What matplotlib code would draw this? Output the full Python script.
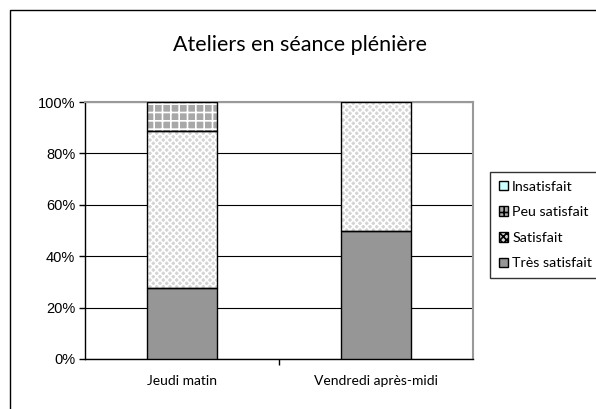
import numpy as np
import matplotlib.pyplot as plt
from matplotlib.patches import Patch, Rectangle

categories = ['Jeudi matin', 'Vendredi après-midi']
tres_satisfait = [27.8, 50.0]
satisfait = [61.1, 50.0]
peu_satisfait = [11.1, 0.0]
insatisfait = [0.0, 0.0]

series = [
    ('Très satisfait', tres_satisfait, '#969696', None, None),
    ('Satisfait', satisfait, '#d4d4d4', 'xxxxx', 'white'),
    ('Peu satisfait', peu_satisfait, '#a8a8a8', '++', 'white'),
    ('Insatisfait', insatisfait, '#ccffff', None, None),
]

plt.rcParams['font.family'] = ['Liberation Sans', 'DejaVu Sans']
plt.rcParams['hatch.linewidth'] = 1.2

fig = plt.figure(figsize=(5.96, 4.09), dpi=100)
# chart frame (cut off at right and bottom like the original)
fig.patches.append(Rectangle((10/596, -0.1), 1.0, 1 - 10/409 + 0.1,
                             transform=fig.transFigure, fill=False,
                             edgecolor='black', linewidth=1.0))

ax = fig.add_axes([85/596, 1 - 359/409, 388/596, 257/409])
x = np.arange(len(categories))
width = 0.36
bottom = np.zeros(len(categories))
for name, vals, color, hatch, hcol in series:
    vals = np.array(vals)
    if hatch:
        ax.bar(x, vals, width, bottom=bottom, color=color, edgecolor=hcol,
               hatch=hatch, linewidth=0, zorder=3)
    else:
        ax.bar(x, vals, width, bottom=bottom, color=color, linewidth=0, zorder=3)
    mask = vals > 0
    ax.bar(x[mask], vals[mask], width, bottom=bottom[mask], fill=False,
           edgecolor='black', linewidth=1.0, zorder=4)
    bottom += vals

ax.set_xlim(-0.5, 1.5)
ax.set_ylim(0, 100)
ax.set_yticks(np.arange(0, 101, 20))
ax.set_yticklabels(['{}%'.format(v) for v in range(0, 101, 20)], fontsize=10.5)
ax.set_xticks([0.5])
ax.set_xticklabels([''])
ax.tick_params(axis='x', length=4, width=1, direction='out')
ax.tick_params(axis='y', length=4, width=1, direction='out', pad=3)
for i, c in enumerate(categories):
    ax.text(i, -0.085, c, transform=ax.get_xaxis_transform(), ha='center',
            va='center', fontsize=10, family=['Lato', 'DejaVu Sans'])
ax.yaxis.grid(True, color='black', linewidth=0.8, zorder=0)
ax.set_axisbelow(True)
for s in ['top', 'right']:
    ax.spines[s].set_color('#999999')
    ax.spines[s].set_linewidth(1.5)
for s in ['left', 'bottom']:
    ax.spines[s].set_color('black')
    ax.spines[s].set_linewidth(1.0)

fig.text(300/596, 1 - 45/409, 'Ateliers en séance plénière', ha='center',
         va='center', fontsize=15.5, family=['Lato', 'DejaVu Sans'])

handles = []
for name, vals, color, hatch, hcol in reversed(series):
    handles.append(Patch(facecolor=color, edgecolor='black', hatch=hatch,
                         linewidth=1.0, label=name))
leg = fig.legend(handles=handles, loc='upper left',
                 bbox_to_anchor=(490/596, 1 - 172/409), frameon=True,
                 fancybox=False, edgecolor='black',
                 handlelength=0.65, handleheight=0.65, handletextpad=0.3,
                 labelspacing=0.95, borderpad=0.6, borderaxespad=0,
                 prop={'family': ['Lato', 'DejaVu Sans'], 'size': 10.3})
leg.get_frame().set_linewidth(1.0)

fig.savefig('out.png', dpi=100)
